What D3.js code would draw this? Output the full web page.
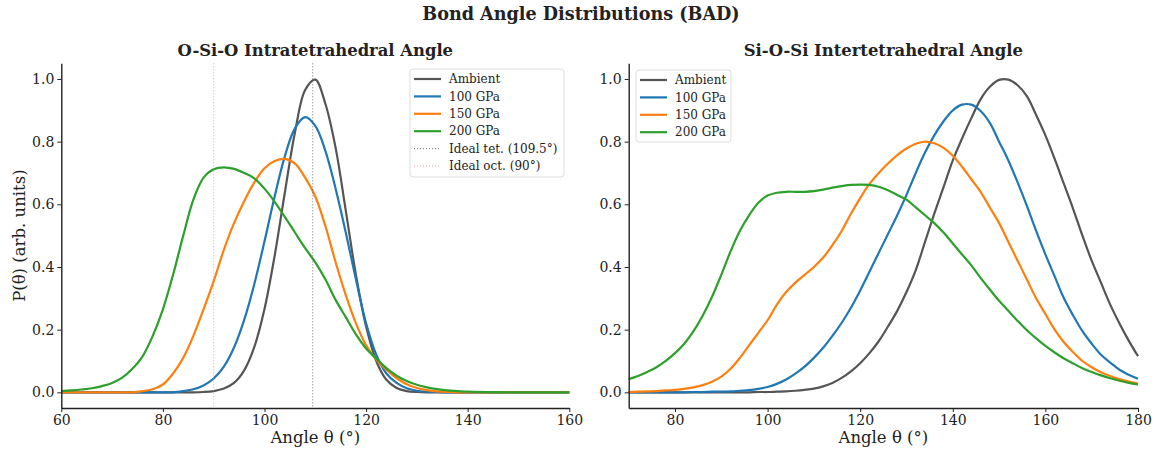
<!DOCTYPE html>
<html>
<head>
<meta charset="utf-8">
<script src="https://cdn.jsdelivr.net/npm/d3@7"></script>
<style>
  body { margin: 0; background: #fff; }
  svg { display: block; }
  text { font-family: "DejaVu Serif", serif; fill: #222; }
</style>
</head>
<body>
<div id="chart"></div>
<script>
// series info
let series_names = ["Ambient", "100 GPa", "150 GPa", "200 GPa"];
let series_colors = ["#555555", "#1f77b4", "#ff7f0e", "#2ca02c"];

// O-Si-O panel, values
let osio_angles = [60, 62, 64, 66, 68, 70, 72, 74, 76, 78, 80, 82, 84, 86, 88, 90, 92, 94, 96, 98,
  100, 102, 104, 106, 108, 110, 112, 114, 116, 118, 120, 122, 124, 126, 128, 130, 132, 134, 136, 138,
  140, 150, 160];
let osio_ambient = [0, 0, 0, 0, 0, 0, 0, 0, 0, 0, 0, 0, 0, 0, 0.001, 0.004, 0.012, 0.03, 0.07, 0.145,
  0.266, 0.436, 0.637, 0.83, 0.965, 0.998, 0.92, 0.78, 0.58, 0.375, 0.21, 0.10, 0.04, 0.014, 0.004, 0.001, 0, 0, 0, 0,
  0, 0, 0];
let osio_100 = [0, 0, 0, 0, 0, 0, 0, 0, 0, 0, 0, 0, 0.004, 0.01, 0.022, 0.044, 0.082, 0.143, 0.231, 0.346,
  0.482, 0.625, 0.753, 0.843, 0.878, 0.85, 0.77, 0.65, 0.51, 0.36, 0.22, 0.12, 0.06, 0.03, 0.013, 0.005, 0.002, 0.001, 0, 0,
  0, 0, 0];
let osio_150 = [0, 0, 0, 0, 0, 0, 0, 0, 0.004, 0.01, 0.025, 0.06, 0.11, 0.18, 0.265, 0.355, 0.455, 0.54, 0.61, 0.67,
  0.715, 0.738, 0.745, 0.73, 0.685, 0.625, 0.53, 0.415, 0.31, 0.22, 0.15, 0.105, 0.072, 0.045, 0.026, 0.014, 0.007, 0.003, 0.001, 0,
  0, 0, 0];
let osio_200 = [0.004, 0.006, 0.009, 0.013, 0.02, 0.03, 0.047, 0.075, 0.115, 0.18, 0.265, 0.375, 0.5, 0.615, 0.685, 0.712, 0.718, 0.713, 0.70, 0.683,
  0.65, 0.608, 0.56, 0.51, 0.46, 0.415, 0.36, 0.295, 0.24, 0.185, 0.14, 0.108, 0.077, 0.053, 0.036, 0.024, 0.016, 0.01, 0.006, 0.004,
  0.002, 0, 0];

// Si-O-Si panel
let siosi_angles = [70, 72, 74, 76, 78, 80, 82, 84, 86, 88, 90, 92, 94, 96, 98, 100, 102, 104, 106, 108,
  110, 112, 114, 116, 118, 120, 122, 124, 126, 128, 130, 132, 134, 136, 138, 140, 142, 144, 146, 148,
  150, 152, 154, 156, 158, 160, 162, 164, 166, 168, 170, 172, 174, 176, 178, 180];
let siosi_ambient = [0, 0, 0, 0, 0, 0, 0, 0, 0, 0, 0, 0, 0, 0, 0.001, 0.001, 0.002, 0.003, 0.005, 0.008,
  0.012, 0.019, 0.03, 0.046, 0.067, 0.093, 0.125, 0.163, 0.21, 0.26, 0.32, 0.39, 0.48, 0.57, 0.655, 0.74, 0.81, 0.875, 0.935, 0.975,
  0.997, 0.998, 0.98, 0.945, 0.885, 0.82, 0.745, 0.665, 0.585, 0.5, 0.42, 0.35, 0.28, 0.22, 0.165, 0.115];
let siosi_100 = [0, 0, 0, 0, 0, 0, 0, 0.001, 0.001, 0.002, 0.002, 0.003, 0.005, 0.007, 0.011, 0.017, 0.027, 0.041, 0.06, 0.082,
  0.11, 0.142, 0.18, 0.222, 0.27, 0.325, 0.385, 0.445, 0.505, 0.565, 0.63, 0.70, 0.765, 0.82, 0.865, 0.9, 0.918, 0.918, 0.898, 0.86,
  0.8, 0.74, 0.67, 0.595, 0.515, 0.44, 0.37, 0.3, 0.245, 0.195, 0.155, 0.12, 0.095, 0.072, 0.056, 0.043];
let siosi_150 = [0.001, 0.002, 0.003, 0.004, 0.006, 0.008, 0.011, 0.016, 0.023, 0.034, 0.05, 0.075, 0.11, 0.15, 0.19, 0.23, 0.28, 0.32, 0.35, 0.375,
  0.40, 0.43, 0.47, 0.515, 0.57, 0.62, 0.665, 0.70, 0.73, 0.757, 0.778, 0.793, 0.80, 0.795, 0.78, 0.755, 0.72, 0.68, 0.64, 0.59,
  0.54, 0.48, 0.42, 0.36, 0.30, 0.25, 0.20, 0.16, 0.128, 0.10, 0.08, 0.064, 0.052, 0.042, 0.034, 0.028];
let siosi_200 = [0.042, 0.052, 0.065, 0.08, 0.1, 0.125, 0.155, 0.195, 0.245, 0.305, 0.375, 0.45, 0.515, 0.565, 0.605, 0.628, 0.637, 0.64, 0.64, 0.64,
  0.642, 0.647, 0.653, 0.658, 0.662, 0.663, 0.662, 0.656, 0.645, 0.63, 0.615, 0.59, 0.565, 0.54, 0.51, 0.475, 0.44, 0.405, 0.365, 0.328,
  0.292, 0.26, 0.228, 0.198, 0.172, 0.148, 0.127, 0.108, 0.092, 0.077, 0.065, 0.054, 0.045, 0.037, 0.03, 0.025];

let osio_ticks_x = [60, 80, 100, 120, 140, 160];
let siosi_ticks_x = [80, 100, 120, 140, 160, 180];
let ticks_y = [0, 0.2, 0.4, 0.6, 0.8, 1.0];
let ref_lines = [
  {label: "Ideal tet. (109.5°)", angle: 109.5, color: "#666666", opacity: 0.9},
  {label: "Ideal oct. (90°)", angle: 90, color: "#f08080", opacity: 0.75}
];

let layout = {
  width: 1156, height: 452,
  y_top: 63.3, y_bottom: 408,
  font: {tick: 14, label: 16.5, title: 16.4, suptitle: 17.6, legend: 12},
  line_width: 2.2
};

let panels = [
  {
    title: "O-Si-O Intratetrahedral Angle",
    x0: 61.3, x1: 569.3, domain: [60, 160], ticks: osio_ticks_x,
    angles: osio_angles, values: [osio_ambient, osio_100, osio_150, osio_200],
    refs: ref_lines, ylabel: "P(θ) (arb. units)",
    legend: {x: 410, y: 69, w: 154, h: 108}
  },
  {
    title: "Si-O-Si Intertetrahedral Angle",
    x0: 628.7, x1: 1138, domain: [70, 180], ticks: siosi_ticks_x,
    angles: siosi_angles, values: [siosi_ambient, siosi_100, siosi_150, siosi_200],
    refs: [], ylabel: null,
    legend: {x: 636, y: 70, w: 95, h: 72}
  }
];

let svg = d3.select("#chart").append("svg")
  .attr("width", layout.width).attr("height", layout.height)
  .attr("viewBox", "0 0 " + layout.width + " " + layout.height);

svg.append("text")
  .attr("x", 581).attr("y", 20)
  .attr("text-anchor", "middle")
  .style("font-size", layout.font.suptitle + "px").style("font-weight", "bold")
  .text("Bond Angle Distributions (BAD)");

let y = d3.scaleLinear().domain([-0.05, 1.05]).range([layout.y_bottom, layout.y_top]);

let draw_panel = function(p) {
  let x = d3.scaleLinear().domain(p.domain).range([p.x0, p.x1]);
  let g = svg.append("g");

  //curves
  let line = d3.line()
    .x(function(d) { return x(d[0]); })
    .y(function(d) { return y(d[1]); })
    .curve(d3.curveCatmullRom.alpha(0.5));
  for (let s = 0; s < p.values.length; s++) {
    let pts = p.angles.map(function(a, i) { return [a, p.values[s][i]]; });
    g.append("path").datum(pts)
      .attr("d", line)
      .style("fill", "none")
      .style("stroke", series_colors[s])
      .style("stroke-width", layout.line_width)
      .style("stroke-linejoin", "round");
  }

  //reference lines
  p.refs.forEach(function(r) {
    g.append("line")
      .attr("x1", x(r.angle)).attr("x2", x(r.angle))
      .attr("y1", layout.y_top).attr("y2", layout.y_bottom)
      .style("stroke", r.color).style("stroke-width", 1)
      .style("stroke-dasharray", "1,2").style("opacity", r.opacity);
  });

  //axes
  let axis_x = g.append("g")
    .attr("transform", "translate(0," + layout.y_bottom + ")")
    .call(d3.axisBottom(x).tickValues(p.ticks).tickFormat(d3.format("d"))
      .tickSizeInner(4).tickSizeOuter(0).tickPadding(3));
  let axis_y = g.append("g")
    .attr("transform", "translate(" + p.x0 + ",0)")
    .call(d3.axisLeft(y).tickValues(ticks_y).tickFormat(d3.format(".1f"))
      .tickSizeInner(4).tickSizeOuter(0).tickPadding(3));
  [axis_x, axis_y].forEach(function(ax) {
    ax.select(".domain").style("stroke", "#222").style("stroke-width", 1.4);
    ax.selectAll(".tick line").style("stroke", "#222").style("stroke-width", 1);
    ax.selectAll(".tick text")
      .style("font-family", "DejaVu Serif").style("font-size", layout.font.tick + "px").style("fill", "#222");
  });

  g.append("text")
    .attr("x", (p.x0 + p.x1) / 2).attr("y", 443)
    .attr("text-anchor", "middle")
    .style("font-size", layout.font.label + "px")
    .text("Angle θ (°)");
  if (p.ylabel) {
    g.append("text")
      .attr("transform", "translate(25," + ((layout.y_top + layout.y_bottom) / 2) + ") rotate(-90)")
      .attr("text-anchor", "middle")
      .style("font-size", layout.font.label + "px")
      .text(p.ylabel);
  }

  g.append("text")
    .attr("x", (p.x0 + p.x1) / 2).attr("y", 56)
    .attr("text-anchor", "middle")
    .style("font-size", layout.font.title + "px").style("font-weight", "bold")
    .text(p.title);

  //legend
  let lg = g.append("g").attr("transform", "translate(" + p.legend.x + "," + p.legend.y + ")");
  lg.append("rect")
    .attr("width", p.legend.w).attr("height", p.legend.h).attr("rx", 3)
    .style("fill", "#fff").style("fill-opacity", 0.85)
    .style("stroke", "#dddddd").style("stroke-width", 1);
  let entries = series_names.map(function(n, i) {
    return {label: n, color: series_colors[i], dash: null, width: 2.2, opacity: 1};
  });
  p.refs.forEach(function(r) {
    entries.push({label: r.label, color: r.color, dash: "1,2", width: 1, opacity: r.opacity});
  });
  entries.forEach(function(e, i) {
    let cy = 10 + i * 17.4;
    lg.append("line")
      .attr("x1", 4).attr("x2", 31).attr("y1", cy).attr("y2", cy)
      .style("stroke", e.color).style("stroke-width", e.width)
      .style("stroke-dasharray", e.dash).style("opacity", e.opacity);
    lg.append("text")
      .attr("x", 39).attr("y", cy + 4.2)
      .style("font-size", layout.font.legend + "px")
      .text(e.label);
  });
};

panels.forEach(draw_panel);
</script>
</body>
</html>
